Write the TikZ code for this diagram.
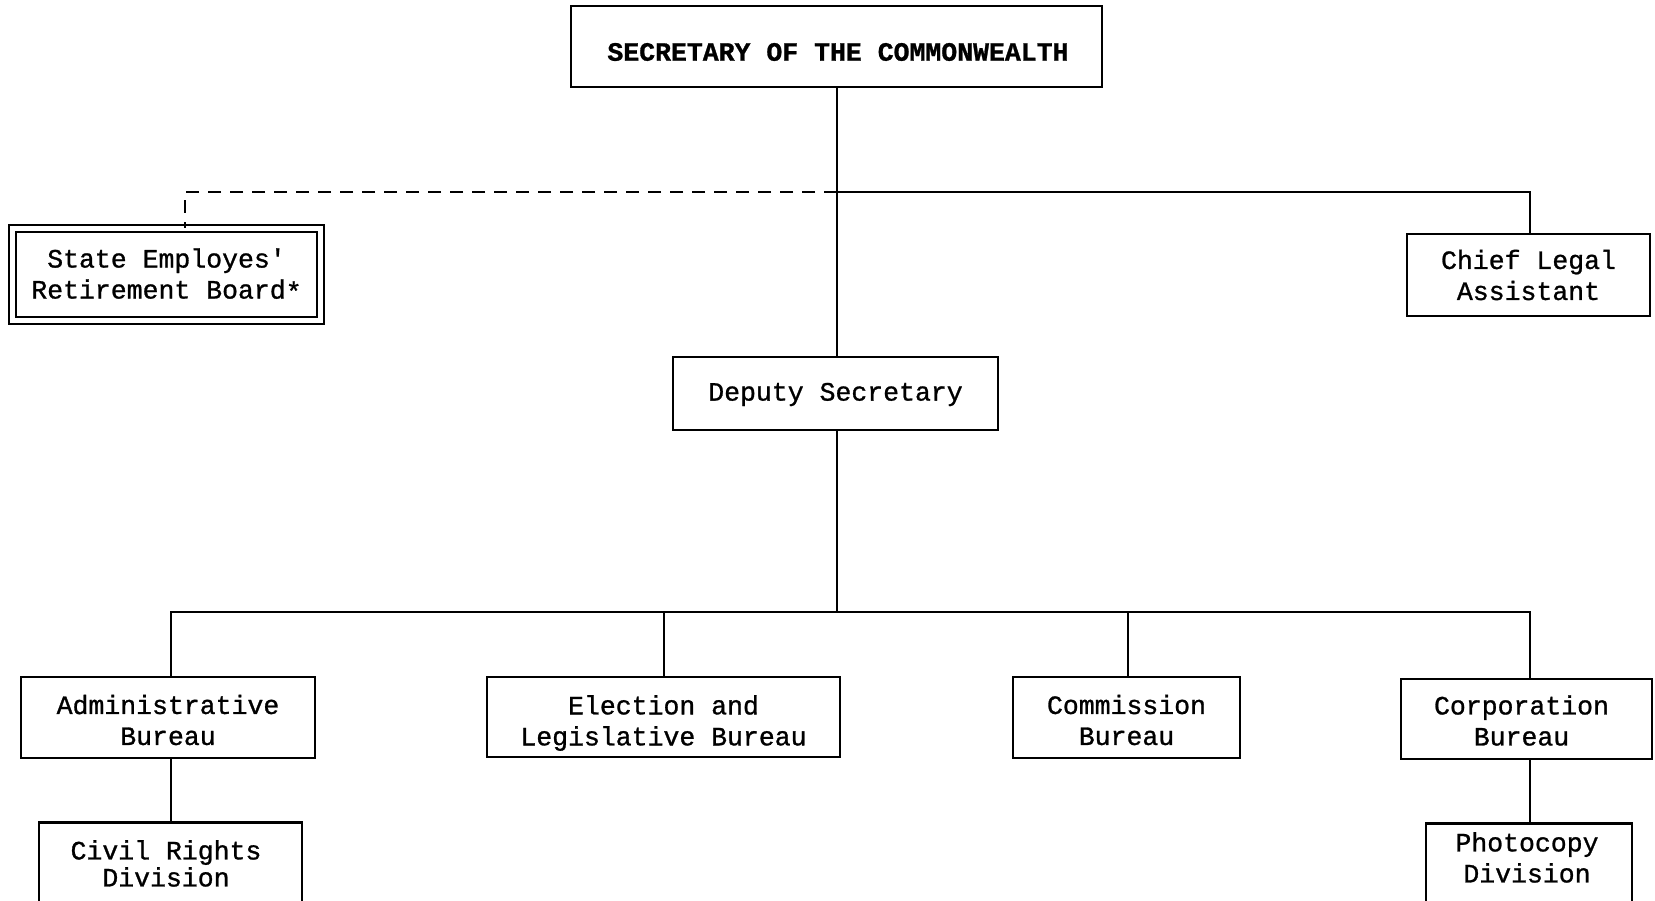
\documentclass[tikz,border=0pt]{standalone}
\usepackage{fontspec}
\newfontfamily\typer[FakeBold=1]{Liberation Mono}
\newfontfamily\typerbold[FakeBold=1]{Liberation Mono Bold}
\begin{document}
\begin{tikzpicture}[x=1pt,y=-1pt,
  orgbox/.style={draw, line width=2.6pt, inner sep=0pt, align=center,
    font=\typer\fontsize{26.5}{31}\selectfont},
  label/.style={align=center, inner sep=0pt, font=\typer\fontsize{26.5}{31}\selectfont},
  link/.style={line width=2.6pt},
  dashlink/.style={line width=2.6pt, dash pattern=on 13pt off 9pt}]
\useasboundingbox (0,0) rectangle (1655,900);
\clip (0,0) rectangle (1655,900);

% head of the department
\node[orgbox, minimum width=531pt, minimum height=81pt] (sec) at (836.5,46.5) {};
\node[font=\typerbold\fontsize{26.5}{31}\selectfont] (sectxt) at (838,52)
  {SECRETARY OF THE COMMONWEALTH};

% staff level
\node[orgbox, double, double distance=5pt, line width=2pt,
  minimum width=308pt, minimum height=92pt] (serb) at (166.5,274.5)
  {State Employes'\\Retirement Board\raisebox{-0.15ex}{*}};
\node[orgbox, minimum width=243pt, minimum height=82pt] (legal) at (1528.5,275)
  {Chief Legal\\Assistant};
\node[orgbox, minimum width=325pt, minimum height=73pt] (deputy) at (835.5,393.5) {};
\node[label] (deputytxt) at (835.5,394.5) {Deputy Secretary};

% bureaus
\node[orgbox, minimum width=294pt, minimum height=81pt] (admin) at (168,717.5) {};
\node[orgbox, minimum width=353pt, minimum height=80pt] (elect) at (663.5,717) {};
\node[orgbox, minimum width=227pt, minimum height=81pt] (comm) at (1126.5,717.5) {};
\node[orgbox, minimum width=251pt, minimum height=80pt] (corp) at (1526.5,719) {};
\node[label] (admintxt) at (168,720) {Administrative\\Bureau};
\node[label] (electtxt) at (663.5,723) {Election and\\Legislative Bureau};
\node[label] (commtxt) at (1126.5,720) {Commission\\Bureau};
\node[label] (corptxt) at (1521.5,720.5) {Corporation\\Bureau};

% divisions
\node[orgbox, minimum width=263pt, minimum height=95pt, anchor=north] (civil) at (170.5,821) {};
\node[label, font=\typer\fontsize{26.5}{27}\selectfont, anchor=north] (civiltxt)
  at (166,840) {Civil Rights\\Division};
\node[orgbox, minimum width=206pt, minimum height=95pt, anchor=north] (photo) at (1529,822) {};
\node[label, anchor=north] (phototxt) at (1527,832) {Photocopy\\Division};

% junctions
\coordinate (j1) at (837,192);
\coordinate (j2) at (837,612);

% connectors
\draw[link] (sec.south -| j1) -- (deputy.north -| j1);
\draw[link] (j1) -| ([xshift=1.5pt]legal.north);
\draw[dashlink] (j1) -| ([xshift=18.5pt]serb.north);
\draw[link] (deputy.south -| j2) -- (j2);
\draw[link] (j2) -| ([xshift=3pt]admin.north);
\draw[link] (j2) -| ([xshift=0.5pt]elect.north);
\draw[link] (j2) -| ([xshift=1.5pt]comm.north);
\draw[link] (j2) -| ([xshift=3.5pt]corp.north);
\draw[link] ([xshift=3pt]admin.south) -- ([xshift=3pt]admin.south |- civil.north);
\draw[link] ([xshift=3.5pt]corp.south) -- ([xshift=3.5pt]corp.south |- photo.north);
\end{tikzpicture}
\end{document}
